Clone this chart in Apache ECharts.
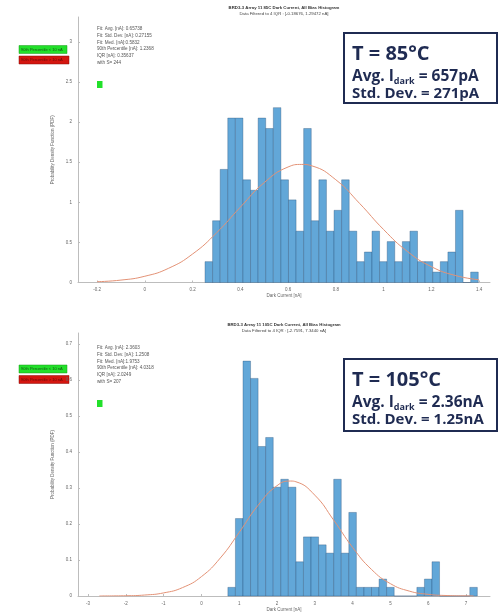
<!DOCTYPE html>
<html>
<head>
<meta charset="utf-8">
<script src="https://cdn.jsdelivr.net/npm/echarts@6/dist/echarts.min.js"></script>
<style>
html,body{margin:0;padding:0;background:#fff;}
#chart{width:499px;height:613px;}
</style>
</head>
<body>
<div id="chart"></div>
<script>
// ---------- Data: top histogram (T = 85°C) ----------
const topBinStart = 0.252;
const topBinWidth = 0.0318;
const topDensity = [0.26, 0.77, 1.41, 2.05, 2.05, 1.28, 1.15, 2.05, 1.92, 2.18,
  1.28, 1.03, 0.64, 1.92, 0.77, 1.28, 0.64, 0.90, 1.28, 0.64,
  0.26, 0.38, 0.64, 0.26, 0.51, 0.26, 0.51, 0.64, 0.26, 0.26,
  0.13, 0.26, 0.38, 0.90, 0, 0.13];
const topFitX = [-0.2, -0.1, 0, 0.1, 0.2, 0.3, 0.4, 0.5, 0.6, 0.657, 0.7, 0.8, 0.9, 1.0, 1.1, 1.2, 1.3, 1.4];
const topFitY = [0.010, 0.030, 0.078, 0.178, 0.355, 0.618, 0.939, 1.245, 1.440, 1.472, 1.454, 1.281, 0.985, 0.661, 0.387, 0.198, 0.088, 0.034];
const topXTicks = [-0.2, 0, 0.2, 0.4, 0.6, 0.8, 1, 1.2, 1.4];
const topYTicks = [0, 0.5, 1, 1.5, 2, 2.5, 3];
const topStats = ['Fit: Avg. [nA]: 0.65738', 'Fit: Std. Dev. [nA]: 0.27155', 'Fit: Med. [nA]:0.5832',
  '90th Percentile [nA]: 1.2368', 'IQR [nA]: 0.35637', 'with S= 244'];
const topTitle = 'BRD3-3 Array 11 85C Dark Current, All Bias Histogram';
const topSub = 'Data Filtered to 4 IQR : [-0.18676, 1.29472 nA]';

// ---------- Data: bottom histogram (T = 105°C) ----------
const botBinStart = 0.7;
const botBinWidth = 0.2;
const botDensity = [0.024, 0.215, 0.652, 0.604, 0.415, 0.440, 0.302, 0.324, 0.302, 0.095,
  0.164, 0.164, 0.142, 0.119, 0.324, 0.119, 0.232, 0.024, 0.024, 0.024,
  0.047, 0.024, 0, 0, 0, 0.024, 0.047, 0.095, 0, 0,
  0, 0, 0.024];
const botFitX = [-2.7, -2, -1.5, -1, -0.5, 0, 0.5, 1, 1.5, 2, 2.36, 2.5, 3, 3.5, 4, 4.5, 5, 5.5, 6, 6.5, 7, 7.2];
const botFitY = [0.0001, 0.0007, 0.0027, 0.0086, 0.0233, 0.0537, 0.1055, 0.1766, 0.2518, 0.3062, 0.3191, 0.3171,
  0.2799, 0.2105, 0.1349, 0.0737, 0.0343, 0.0136, 0.0046, 0.0013, 0.0003, 0.0002];
const botXTicks = [-3, -2, -1, 0, 1, 2, 3, 4, 5, 6, 7];
const botYTicks = [0, 0.1, 0.2, 0.3, 0.4, 0.5, 0.6, 0.7];
const botStats = ['Fit: Avg. [nA]: 2.3603', 'Fit: Std. Dev. [nA]: 1.2508', 'Fit: Med. [nA]:1.9753',
  '90th Percentile [nA]: 4.0318', 'IQR [nA]: 2.0249', 'with S= 207'];
const botTitle = 'BRD3-3 Array 11 105C Dark Current, All Bias Histogram';
const botSub = 'Data Filtered to 4 IQR : [-2.7591, 7.3440 nA]';

const legendGreen = '90th Percentile < 10 nA';
const legendRed = '90th Percentile > 10 nA';

const topBox = {t: 'T = 85°C', avg: '657pA', sd: '271pA'};
const botBox = {t: 'T = 105°C', avg: '2.36nA', sd: '1.25nA'};

// ---------- Build ----------
function binData(start, width, vals) {
  return vals.map((v, i) => [start + i * width, start + (i + 1) * width, v]);
}
function zip(xs, ys) { return xs.map((x, i) => [x, ys[i]]); }

const barFill = '#62a7d8';
const barEdge = 'rgba(35,70,110,0.55)';
const fitColor = '#e39276';
const axisGrey = '#bdbdbd';
const labelGrey = '#666';
const navy = '#1f2b52';

function renderHist(params, api) {
  const p0 = api.coord([api.value(0), 0]);
  const p1 = api.coord([api.value(1), api.value(2)]);
  return {
    type: 'rect',
    shape: {x: p0[0], y: p1[1], width: p1[0] - p0[0], height: p0[1] - p1[1]},
    style: {fill: barFill, stroke: barEdge, lineWidth: 0.6}
  };
}

function xAxisCfg(gridIndex, min, max, ticks) {
  return {
    type: 'value', gridIndex, min, max,
    name: 'Dark Current [nA]', nameLocation: 'middle', nameGap: 11,
    nameTextStyle: {fontSize: 4.5, color: labelGrey},
    splitLine: {show: false},
    axisLine: {onZero: false, lineStyle: {color: axisGrey, width: 1}},
    axisTick: {customValues: ticks, length: 2, inside: true, lineStyle: {color: axisGrey}},
    axisLabel: {customValues: ticks, fontSize: 4.5, color: labelGrey, margin: 5}
  };
}
function yAxisCfg(gridIndex, max, ticks) {
  return {
    type: 'value', gridIndex, min: 0, max,
    name: 'Probability Density Function (PDF)', nameLocation: 'middle', nameGap: 12,
    nameTextStyle: {fontSize: 4.5, color: labelGrey},
    splitLine: {show: false},
    axisLine: {show: true, onZero: false, lineStyle: {color: axisGrey, width: 1}},
    axisTick: {show: true, customValues: ticks, length: 2, inside: true, lineStyle: {color: axisGrey}},
    axisLabel: {customValues: ticks, fontSize: 4.5, color: labelGrey, margin: 6}
  };
}

function statsText(lines, x, y) {
  return {type: 'text', left: x, top: y, silent: true,
    style: {text: lines.join('\n'), fontSize: 4.6, lineHeight: 6.9, fill: '#555', fontFamily: 'Liberation Sans'}};
}
function legendBoxes(y) {
  return [
    {type: 'rect', shape: {x: 19, y: y, width: 48, height: 8}, style: {fill: '#22e02a', stroke: '#1a9a1a', lineWidth: 0.5}},
    {type: 'text', left: 21, top: y + 2, style: {text: legendGreen, fontSize: 4, fill: '#145214'}},
    {type: 'rect', shape: {x: 19, y: y + 10.5, width: 50, height: 8}, style: {fill: '#d4160f', stroke: '#8a0d0a', lineWidth: 0.5}},
    {type: 'text', left: 21, top: y + 12.5, style: {text: legendRed, fontSize: 4, fill: '#6a0a08'}}
  ];
}
function titleTexts(t1, t2, y) {
  return [
    {type: 'text', x: 284, y: y, style: {text: t1, fontSize: 4.3, fontWeight: 'bold', fill: '#333', align: 'center', verticalAlign: 'middle'}},
    {type: 'text', x: 284, y: y + 6, style: {text: t2, fontSize: 4.3, fill: '#444', align: 'center', verticalAlign: 'middle'}}
  ];
}
function annoBox(b, x, y, w, h) {
  return [
    {type: 'rect', shape: {x: x, y: y, width: w, height: h}, style: {fill: '#fff', stroke: navy, lineWidth: 2}},
    {type: 'text', x: x + 8, y: y + 21, style: {text: b.t, fontSize: 20, fontWeight: 'bold', fill: navy,
      fontFamily: 'Open Sans', verticalAlign: 'middle'}},
    {type: 'text', x: x + 8, y: y + 44, style: {
      text: '{a|Avg. I}{s|dark}{a| = ' + b.avg + '}', fontFamily: 'Open Sans', verticalAlign: 'middle',
      rich: {a: {fontSize: 15.5, fontWeight: 'bold', fill: navy, fontFamily: 'Open Sans'},
             s: {fontSize: 9, fontWeight: 'bold', fill: navy, fontFamily: 'Open Sans', padding: [9, 0, 0, 0]}}}},
    {type: 'text', x: x + 8, y: y + 61, style: {text: 'Std. Dev. = ' + b.sd, fontSize: 15, fontWeight: 'bold', fill: navy,
      fontFamily: 'Open Sans', verticalAlign: 'middle'}}
  ];
}

const chart = echarts.init(document.getElementById('chart'), null, {renderer: 'canvas'});
chart.setOption({
  animation: false,
  backgroundColor: '#fff',
  grid: [
    {left: 78, top: 17, width: 412, height: 265.5},
    {left: 78, top: 333, width: 412, height: 270}
  ],
  xAxis: [xAxisCfg(0, -0.28, 1.446, topXTicks), xAxisCfg(1, -3.265, 7.635, botXTicks)],
  yAxis: [yAxisCfg(0, 3.31, topYTicks), yAxisCfg(1, 0.73, botYTicks)],
  series: [
    {type: 'custom', xAxisIndex: 0, yAxisIndex: 0, renderItem: renderHist,
      encode: {x: [0, 1], y: 2}, data: binData(topBinStart, topBinWidth, topDensity)},
    {type: 'line', xAxisIndex: 0, yAxisIndex: 0, smooth: true, symbol: 'none',
      lineStyle: {color: fitColor, width: 1}, data: zip(topFitX, topFitY), z: 5},
    {type: 'custom', xAxisIndex: 1, yAxisIndex: 1, renderItem: renderHist,
      encode: {x: [0, 1], y: 2}, data: binData(botBinStart, botBinWidth, botDensity)},
    {type: 'line', xAxisIndex: 1, yAxisIndex: 1, smooth: true, symbol: 'none',
      lineStyle: {color: fitColor, width: 1}, data: zip(botFitX, botFitY), z: 5}
  ],
  graphic: [].concat(
    titleTexts(topTitle, topSub, 8),
    titleTexts(botTitle, botSub, 325),
    [statsText(topStats, 97, 25), statsText(botStats, 97, 344)],
    legendBoxes(45.5),
    legendBoxes(365),
    [
      {type: 'rect', shape: {x: 97, y: 81, width: 5.5, height: 7}, style: {fill: '#22e02a'}},
      {type: 'rect', shape: {x: 97, y: 400, width: 5.5, height: 7}, style: {fill: '#22e02a'}}
    ],
    annoBox(topBox, 344, 33, 153, 70),
    annoBox(botBox, 344, 359, 153, 72)
  )
});
</script>
</body>
</html>
